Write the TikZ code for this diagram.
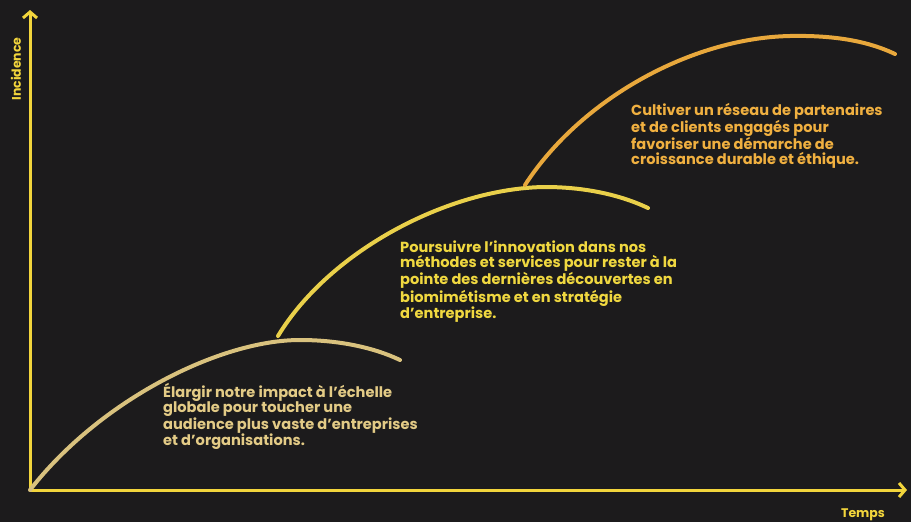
\documentclass[tikz,border=0pt]{standalone}
\usepackage{fontspec}
\setmainfont{Poppins}[UprightFont=* SemiBold, BoldFont=* Bold]
\usetikzlibrary{arrows.meta}
\definecolor{bg}{HTML}{1C1B1C}
\definecolor{axis}{HTML}{F2D53C}
\definecolor{cbeige}{HTML}{D9C27E}
\definecolor{cyellow}{HTML}{E9D04A}
\definecolor{corange}{HTML}{E8A83C}
\definecolor{tbeige}{HTML}{E3CB86}
\definecolor{tyellow}{HTML}{F0D840}
\definecolor{torange}{HTML}{F0B040}
\tikzset{
  axisline/.style={draw=axis, line width=3pt, -{Straight Barb[length=6pt,width=14pt,line width=3pt]}},
  curve/.style={line width=4pt, line cap=round},
  label/.style={anchor=north west, align=left, inner sep=0pt, font=\bfseries\fontsize{14.6}{15}\selectfont},
  axlabel/.style={inner sep=0pt, text=axis, font=\bfseries\fontsize{12.5}{14}\selectfont}
}
\begin{document}
\begin{tikzpicture}[x=1pt,y=-1pt]
\fill[bg] (0,0) rectangle (911,522);
\useasboundingbox (0,0) rectangle (911,522);
\coordinate (o) at (30,490);
\coordinate (ytop) at (30,10);
\coordinate (xend) at (907,490);
\draw[axisline] (o) -- (ytop);
\draw[axisline] (o) -- (xend);
\node[axlabel, rotate=90] (ylab) at (16,69) {Incidence};
\node[axlabel] (xlab) at (863,515) {Temps};
% curves
\coordinate (c1s) at (30,490);
\coordinate (c1p) at (300,340);
\coordinate (c1e) at (400,360);
\draw[curve, cbeige] (c1s) .. controls (100,400) and (220,340) .. (c1p) .. controls (340,340) and (375,348) .. (c1e);
\coordinate (c2s) at (278,336);
\coordinate (c2p) at (545,187);
\coordinate (c2e) at (648,208);
\draw[curve, cyellow] (c2s) .. controls (330,250) and (450,188) .. (c2p) .. controls (590,187) and (625,197) .. (c2e);
\coordinate (c3s) at (525,185);
\coordinate (c3p) at (790,36);
\coordinate (c3e) at (895,54);
\draw[curve, corange] (c3s) .. controls (580,100) and (690,38) .. (c3p) .. controls (840,35) and (872,43) .. (c3e);
% texts
\node[label, text=tbeige] (t1) at (163,383) {Élargir notre impact à l'échelle\\globale pour toucher une\\audience plus vaste d'entreprises\\et d'organisations.};
\node[label, text=tyellow] (t2) at (400,241) {Poursuivre l'innovation dans nos\\méthodes et services pour rester à la\\pointe des dernières découvertes en\\biomimétisme et en stratégie\\d'entreprise.};
\node[label, text=torange] (t3) at (631,103) {Cultiver un réseau de partenaires\\et de clients engagés pour\\favoriser une démarche de\\croissance durable et éthique.};
\end{tikzpicture}
\end{document}
